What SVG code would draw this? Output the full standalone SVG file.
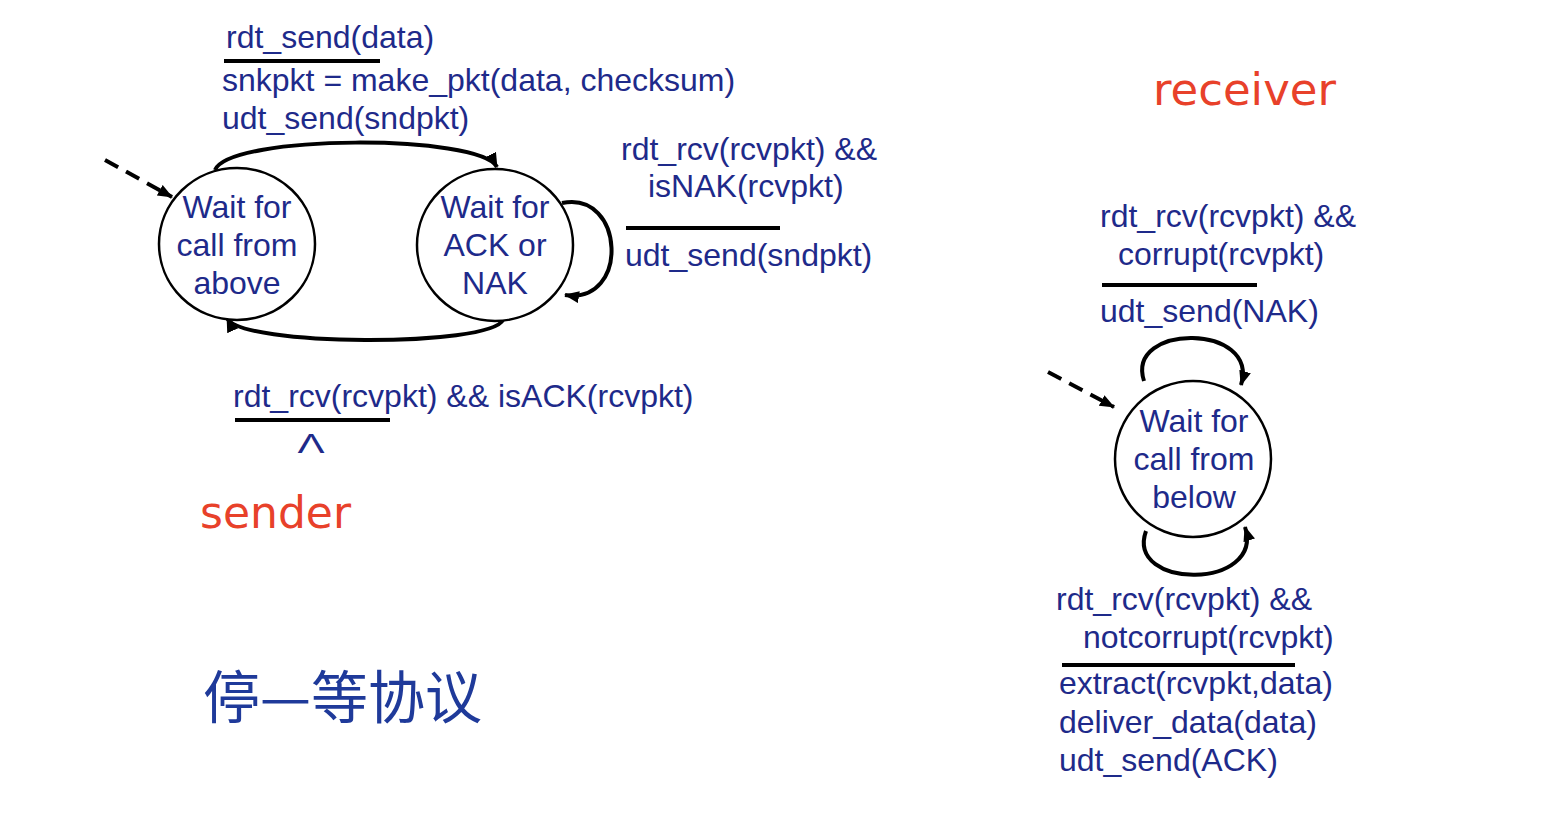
<svg xmlns="http://www.w3.org/2000/svg" width="1548" height="814" viewBox="0 0 1548 814">
<style>
.t{font-family:"Liberation Sans",Arial,sans-serif;font-size:32px;fill:#1E2A8A}
.c{text-anchor:middle}
.st{fill:#fff;stroke:#000;stroke-width:2.5}
.bar{stroke:#000;stroke-width:4}
.arc{fill:none;stroke:#000;stroke-width:4;marker-end:url(#ah)}
.dash{fill:none;stroke:#000;stroke-width:4;stroke-dasharray:15 9;marker-end:url(#ah)}
.lbl{font-family:"DejaVu Sans",sans-serif;font-size:44px;fill:#E8412A}
.cjk{font-family:"Noto Sans CJK SC",sans-serif;font-size:57px;fill:#1F3A9A}
</style>
<defs>
<marker id="ah" markerUnits="userSpaceOnUse" markerWidth="20" markerHeight="20" refX="14" refY="6" orient="auto">
<path d="M0,0 L15,6 L0,12 Z" fill="#000"/>
</marker>
</defs>
<rect width="1548" height="814" fill="#fff"/>
<g id="connectors">
<path class="arc" d="M215,170 C230,134 480,134 497,167"/>
<path class="arc" d="M503,320 C490,347 240,347 227,318"/>
<path class="arc" d="M562,203 C625,190 630,305 565,295"/>
<path class="dash" d="M105,160 L172,197"/>
<path class="arc" d="M1144,381 C1125,323 1260,323 1241,385"/>
<path class="arc" d="M1146,531 C1125,590 1265,590 1245,527"/>
<path class="dash" d="M1048,372 L1114,407"/>
</g>
<g id="s_above">
<ellipse class="st" cx="237" cy="244" rx="78" ry="76"/>
<text class="t c" x="237" y="218">Wait for</text>
<text class="t c" x="237" y="256">call from</text>
<text class="t c" x="237" y="294">above</text>
</g>
<g id="s_ack">
<ellipse class="st" cx="495" cy="245" rx="78" ry="76"/>
<text class="t c" x="495" y="218">Wait for</text>
<text class="t c" x="495" y="256">ACK or</text>
<text class="t c" x="495" y="294">NAK</text>
</g>
<g id="r_below">
<ellipse class="st" cx="1193" cy="459" rx="78" ry="78"/>
<text class="t c" x="1194" y="432">Wait for</text>
<text class="t c" x="1194" y="470">call from</text>
<text class="t c" x="1194" y="508">below</text>
</g>
<g id="label_send">
<text class="t" x="226" y="48">rdt_send(data)</text>
<line class="bar" x1="224" y1="61" x2="380" y2="61"/>
<text class="t" x="222" y="91">snkpkt = make_pkt(data, checksum)</text>
<text class="t" x="222" y="129">udt_send(sndpkt)</text>
</g>
<g id="label_nak">
<text class="t" x="621" y="160">rdt_rcv(rcvpkt) &amp;&amp;</text>
<text class="t" x="648" y="197">isNAK(rcvpkt)</text>
<line class="bar" x1="626" y1="228" x2="780" y2="228"/>
<text class="t" x="625" y="266">udt_send(sndpkt)</text>
</g>
<g id="label_ack">
<text class="t" x="233" y="407">rdt_rcv(rcvpkt) &amp;&amp; isACK(rcvpkt)</text>
<line class="bar" x1="235" y1="420" x2="390" y2="420"/>
<text class="t c" transform="translate(311,453) scale(1.4,0.95)" x="0" y="0" style="font-size:29px">Λ</text>
</g>
<g id="label_corrupt">
<text class="t" x="1100" y="227">rdt_rcv(rcvpkt) &amp;&amp;</text>
<text class="t" x="1118" y="265">corrupt(rcvpkt)</text>
<line class="bar" x1="1102" y1="285" x2="1257" y2="285"/>
<text class="t" x="1100" y="322">udt_send(NAK)</text>
</g>
<g id="label_notcorrupt">
<text class="t" x="1056" y="610">rdt_rcv(rcvpkt) &amp;&amp;</text>
<text class="t" x="1083" y="648">notcorrupt(rcvpkt)</text>
<line class="bar" x1="1062" y1="665" x2="1295" y2="665"/>
<text class="t" x="1059" y="694">extract(rcvpkt,data)</text>
<text class="t" x="1059" y="733">deliver_data(data)</text>
<text class="t" x="1059" y="771">udt_send(ACK)</text>
</g>
<text class="lbl" x="200" y="528">sender</text>
<text class="lbl" x="1153" y="105" style="font-size:45px">receiver</text>
<text class="cjk" x="203" y="718">停—等协议</text>
</svg>
